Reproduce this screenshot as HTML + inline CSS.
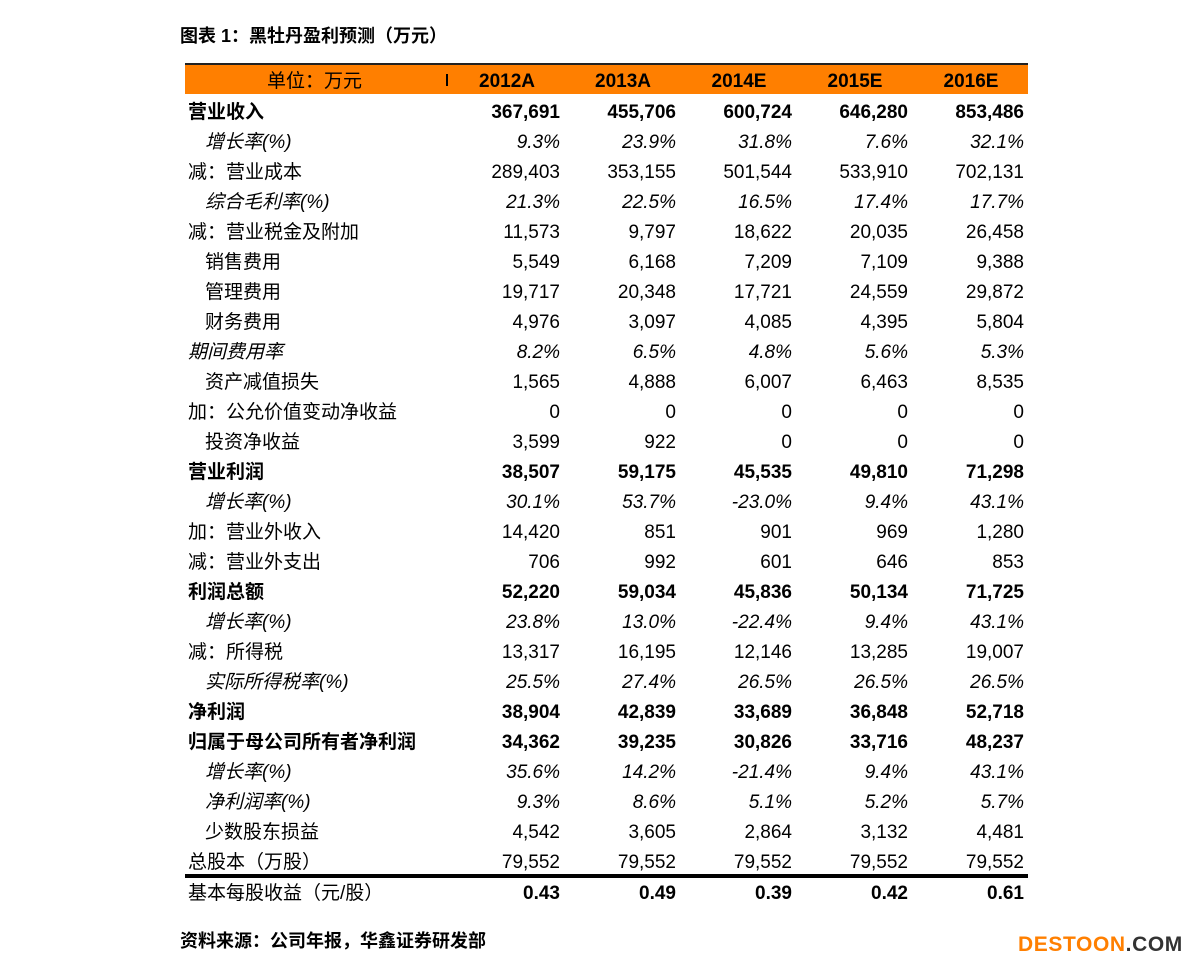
<!DOCTYPE html>
<html><head><meta charset="utf-8"><style>
body{margin:0;width:1191px;height:969px;background:#fff;position:relative;overflow:hidden;font-family:"Liberation Sans","Noto Sans CJK SC",sans-serif;color:#000}
.row{position:absolute;left:0;width:1191px;height:30px;font-size:19px;line-height:30px;white-space:nowrap}
.row span{position:absolute;top:0}
.l{left:188px}.l2{left:205px}
.v{width:110px;text-align:right}
.a{left:450px}.b2{left:566px}.c{left:682px}.d{left:798px}.e{left:914px}
.B{font-weight:bold}.I{font-style:italic}
.h span{width:110px;text-align:center}
#w{position:absolute;left:0;top:2px;width:1191px;height:960px}
</style></head><body>
<div style="position:absolute;left:180px;top:24px;font-size:18px;font-weight:bold;line-height:24px">图表 1：黑牡丹盈利预测（万元）</div>
<div style="position:absolute;left:185px;top:63px;width:843px;height:2px;background:#222"></div>
<div style="position:absolute;left:185px;top:65px;width:843px;height:29px;background:#ff7f00"></div>
<div style="position:absolute;left:446px;top:74px;width:2px;height:12px;background:#000"></div>
<div id="w">
<div class="row h" style="top:65px"><span style="left:267px;width:auto">单位：万元</span><span class="B" style="left:452px">2012A</span><span class="B" style="left:568px">2013A</span><span class="B" style="left:684px">2014E</span><span class="B" style="left:800px">2015E</span><span class="B" style="left:916px">2016E</span></div>

<div class="row B" style="top:96px"><span class="l">营业收入</span><span class="v a">367,691</span><span class="v b2">455,706</span><span class="v c">600,724</span><span class="v d">646,280</span><span class="v e">853,486</span></div>
<div class="row I" style="top:126px"><span class="l2">增长率(%)</span><span class="v a">9.3%</span><span class="v b2">23.9%</span><span class="v c">31.8%</span><span class="v d">7.6%</span><span class="v e">32.1%</span></div>
<div class="row" style="top:156px"><span class="l">减：营业成本</span><span class="v a">289,403</span><span class="v b2">353,155</span><span class="v c">501,544</span><span class="v d">533,910</span><span class="v e">702,131</span></div>
<div class="row I" style="top:186px"><span class="l2">综合毛利率(%)</span><span class="v a">21.3%</span><span class="v b2">22.5%</span><span class="v c">16.5%</span><span class="v d">17.4%</span><span class="v e">17.7%</span></div>
<div class="row" style="top:216px"><span class="l">减：营业税金及附加</span><span class="v a">11,573</span><span class="v b2">9,797</span><span class="v c">18,622</span><span class="v d">20,035</span><span class="v e">26,458</span></div>
<div class="row" style="top:246px"><span class="l2">销售费用</span><span class="v a">5,549</span><span class="v b2">6,168</span><span class="v c">7,209</span><span class="v d">7,109</span><span class="v e">9,388</span></div>
<div class="row" style="top:276px"><span class="l2">管理费用</span><span class="v a">19,717</span><span class="v b2">20,348</span><span class="v c">17,721</span><span class="v d">24,559</span><span class="v e">29,872</span></div>
<div class="row" style="top:306px"><span class="l2">财务费用</span><span class="v a">4,976</span><span class="v b2">3,097</span><span class="v c">4,085</span><span class="v d">4,395</span><span class="v e">5,804</span></div>
<div class="row I" style="top:336px"><span class="l">期间费用率</span><span class="v a">8.2%</span><span class="v b2">6.5%</span><span class="v c">4.8%</span><span class="v d">5.6%</span><span class="v e">5.3%</span></div>
<div class="row" style="top:366px"><span class="l2">资产减值损失</span><span class="v a">1,565</span><span class="v b2">4,888</span><span class="v c">6,007</span><span class="v d">6,463</span><span class="v e">8,535</span></div>
<div class="row" style="top:396px"><span class="l">加：公允价值变动净收益</span><span class="v a">0</span><span class="v b2">0</span><span class="v c">0</span><span class="v d">0</span><span class="v e">0</span></div>
<div class="row" style="top:426px"><span class="l2">投资净收益</span><span class="v a">3,599</span><span class="v b2">922</span><span class="v c">0</span><span class="v d">0</span><span class="v e">0</span></div>
<div class="row B" style="top:456px"><span class="l">营业利润</span><span class="v a">38,507</span><span class="v b2">59,175</span><span class="v c">45,535</span><span class="v d">49,810</span><span class="v e">71,298</span></div>
<div class="row I" style="top:486px"><span class="l2">增长率(%)</span><span class="v a">30.1%</span><span class="v b2">53.7%</span><span class="v c">-23.0%</span><span class="v d">9.4%</span><span class="v e">43.1%</span></div>
<div class="row" style="top:516px"><span class="l">加：营业外收入</span><span class="v a">14,420</span><span class="v b2">851</span><span class="v c">901</span><span class="v d">969</span><span class="v e">1,280</span></div>
<div class="row" style="top:546px"><span class="l">减：营业外支出</span><span class="v a">706</span><span class="v b2">992</span><span class="v c">601</span><span class="v d">646</span><span class="v e">853</span></div>
<div class="row B" style="top:576px"><span class="l">利润总额</span><span class="v a">52,220</span><span class="v b2">59,034</span><span class="v c">45,836</span><span class="v d">50,134</span><span class="v e">71,725</span></div>
<div class="row I" style="top:606px"><span class="l2">增长率(%)</span><span class="v a">23.8%</span><span class="v b2">13.0%</span><span class="v c">-22.4%</span><span class="v d">9.4%</span><span class="v e">43.1%</span></div>
<div class="row" style="top:636px"><span class="l">减：所得税</span><span class="v a">13,317</span><span class="v b2">16,195</span><span class="v c">12,146</span><span class="v d">13,285</span><span class="v e">19,007</span></div>
<div class="row I" style="top:666px"><span class="l2">实际所得税率(%)</span><span class="v a">25.5%</span><span class="v b2">27.4%</span><span class="v c">26.5%</span><span class="v d">26.5%</span><span class="v e">26.5%</span></div>
<div class="row B" style="top:696px"><span class="l">净利润</span><span class="v a">38,904</span><span class="v b2">42,839</span><span class="v c">33,689</span><span class="v d">36,848</span><span class="v e">52,718</span></div>
<div class="row B" style="top:726px"><span class="l">归属于母公司所有者净利润</span><span class="v a">34,362</span><span class="v b2">39,235</span><span class="v c">30,826</span><span class="v d">33,716</span><span class="v e">48,237</span></div>
<div class="row I" style="top:756px"><span class="l2">增长率(%)</span><span class="v a">35.6%</span><span class="v b2">14.2%</span><span class="v c">-21.4%</span><span class="v d">9.4%</span><span class="v e">43.1%</span></div>
<div class="row I" style="top:786px"><span class="l2">净利润率(%)</span><span class="v a">9.3%</span><span class="v b2">8.6%</span><span class="v c">5.1%</span><span class="v d">5.2%</span><span class="v e">5.7%</span></div>
<div class="row" style="top:816px"><span class="l2">少数股东损益</span><span class="v a">4,542</span><span class="v b2">3,605</span><span class="v c">2,864</span><span class="v d">3,132</span><span class="v e">4,481</span></div>
<div class="row" style="top:846px"><span class="l">总股本（万股）</span><span class="v a">79,552</span><span class="v b2">79,552</span><span class="v c">79,552</span><span class="v d">79,552</span><span class="v e">79,552</span></div>
<div class="row" style="top:877px"><span class="l">基本每股收益（元/股）</span><span class="v a B">0.43</span><span class="v b2 B">0.49</span><span class="v c B">0.39</span><span class="v d B">0.42</span><span class="v e B">0.61</span></div>
</div>
<div style="position:absolute;left:185px;top:874px;width:843px;height:4px;background:#000"></div>

<div style="position:absolute;left:180px;top:929px;font-size:18px;font-weight:bold;line-height:24px">资料来源：公司年报，华鑫证券研发部</div>
<div style="position:absolute;left:1018px;top:933px;font-size:21px;font-weight:bold;line-height:24px;color:#ff7f00;white-space:nowrap;letter-spacing:0.6px">DESTOON<span style="color:#333">.COM</span></div>
</body></html>
